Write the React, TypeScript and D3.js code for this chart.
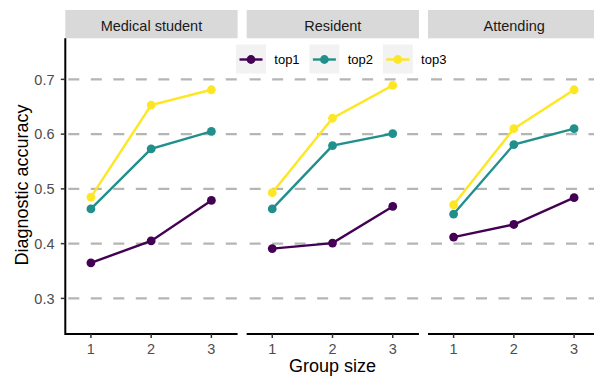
import React from "react";
import * as d3 from "d3";

const panels = ["Medical student", "Resident", "Attending"];
const groupSizes = [1, 2, 3];
const seriesNames = ["top1", "top2", "top3"];
const seriesColors = ["#440154", "#21908C", "#FDE725"];
const yTicks = [0.3, 0.4, 0.5, 0.6, 0.7];

// values[panel][series][groupSize]
const medicalStudent = [
  [0.365, 0.405, 0.479],
  [0.4635, 0.573, 0.605],
  [0.485, 0.653, 0.681],
];
const resident = [
  [0.391, 0.401, 0.468],
  [0.4635, 0.579, 0.601],
  [0.493, 0.629, 0.689],
];
const attending = [
  [0.412, 0.435, 0.484],
  [0.454, 0.581, 0.61],
  [0.471, 0.61, 0.681],
];
const panelValues = [medicalStudent, resident, attending];

const W = 594;
const H = 377;
const FONT = "'Liberation Sans', Arial, Helvetica, sans-serif";

export default function App() {
  const panelLeft = 65.3;
  const panelW = 172.3;
  const panelGap = 9.05;
  const top = 38.3;
  const bottom = 334;
  const y = d3.scaleLinear().domain([0.235, 0.775]).range([bottom, top]);
  const xFor = (i: number) => {
    const x0 = panelLeft + i * (panelW + panelGap);
    return d3.scaleLinear().domain([0.575, 3.435]).range([x0, x0 + panelW]);
  };
  const line = (x: d3.ScaleLinear<number, number>) =>
    d3
      .line<number>()
      .x((_, j) => x(groupSizes[j]))
      .y((d) => y(d));

  const legendX0 = 236;
  const legendStep = 73.4;

  return (
    <svg
      width={W}
      height={H}
      style={{ position: "absolute", left: 0, top: 0, background: "#fff" }}
      fontFamily={FONT}
    >
      {panels.map((p, i) => {
        const x = xFor(i);
        const [x0, x1] = x.range();
        return (
          <g key={p}>
            <rect x={x0} y={10} width={x1 - x0} height={top - 10} fill="#d9d9d9" />
            <text
              x={(x0 + x1) / 2}
              y={30.5}
              textAnchor="middle"
              fontSize={14.5}
              fill="#1a1a1a"
            >
              {p}
            </text>
            {yTicks.map((t) => (
              <line
                key={t}
                x1={x0}
                x2={x1}
                y1={y(t)}
                y2={y(t)}
                stroke="#b5b5b5"
                strokeWidth={2.2}
                strokeDasharray="11 11.5"
                strokeDashoffset={-3}
              />
            ))}
            <line x1={x0} x2={x1} y1={bottom} y2={bottom} stroke="#000" strokeWidth={2} />
            {groupSizes.map((g) => (
              <g key={g}>
                <line x1={x(g)} x2={x(g)} y1={bottom} y2={bottom + 4} stroke="#333" strokeWidth={1.5} />
                <text x={x(g)} y={354} textAnchor="middle" fontSize={14.5} fill="#4d4d4d">
                  {g}
                </text>
              </g>
            ))}
            {panelValues[i].map((vals, s) => (
              <g key={s}>
                <path d={line(x)(vals) || ""} fill="none" stroke={seriesColors[s]} strokeWidth={2.4} />
                {vals.map((v, j) => (
                  <circle key={j} cx={x(groupSizes[j])} cy={y(v)} r={4.4} fill={seriesColors[s]} />
                ))}
              </g>
            ))}
          </g>
        );
      })}
      <line x1={panelLeft} x2={panelLeft} y1={top} y2={bottom + 1} stroke="#000" strokeWidth={2} />
      {yTicks.map((t) => (
        <g key={t}>
          <line x1={panelLeft - 4.5} x2={panelLeft} y1={y(t)} y2={y(t)} stroke="#333" strokeWidth={1.5} />
          <text x={54.5} y={y(t)} dy="0.36em" textAnchor="end" fontSize={14.5} fill="#4d4d4d">
            {t.toFixed(1)}
          </text>
        </g>
      ))}
      <text
        transform={`translate(28,185) rotate(-90)`}
        textAnchor="middle"
        fontSize={18}
        fill="#000"
      >
        Diagnostic accuracy
      </text>
      <text x={332.5} y={372} textAnchor="middle" fontSize={18} fill="#000">
        Group size
      </text>
      {seriesNames.map((n, s) => {
        const bx = legendX0 + s * legendStep;
        const cy = 59.5;
        return (
          <g key={n}>
            <rect x={bx} y={44.5} width={30} height={29} fill="#f2f2f2" />
            <line x1={bx + 3.5} x2={bx + 26.5} y1={cy} y2={cy} stroke={seriesColors[s]} strokeWidth={2.4} />
            <circle cx={bx + 15} cy={cy} r={4.4} fill={seriesColors[s]} />
            <text x={bx + 38.3} y={cy} dy="0.36em" fontSize={13} fill="#000">
              {n}
            </text>
          </g>
        );
      })}
    </svg>
  );
}
